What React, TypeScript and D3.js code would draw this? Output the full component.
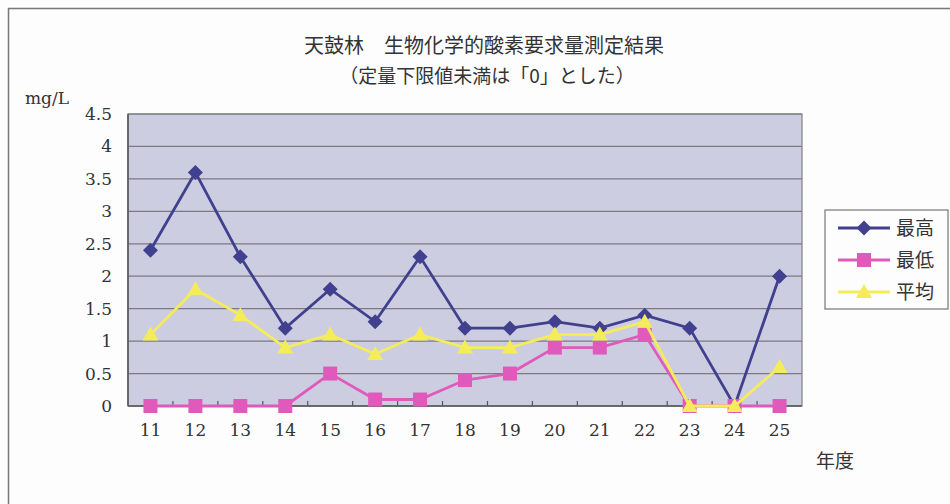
import React from "react";
import * as d3 from "d3";

const years = ["11", "12", "13", "14", "15", "16", "17", "18", "19", "20", "21", "22", "23", "24", "25"];
const maxValues = [2.4, 3.6, 2.3, 1.2, 1.8, 1.3, 2.3, 1.2, 1.2, 1.3, 1.2, 1.4, 1.2, 0, 2.0];
const minValues = [0, 0, 0, 0, 0.5, 0.1, 0.1, 0.4, 0.5, 0.9, 0.9, 1.1, 0, 0, 0];
const avgValues = [1.1, 1.8, 1.4, 0.9, 1.1, 0.8, 1.1, 0.9, 0.9, 1.1, 1.1, 1.3, 0, 0, 0.6];
const yTicks = [0, 0.5, 1, 1.5, 2, 2.5, 3, 3.5, 4, 4.5];
const yTickLabels = ["0", "0.5", "1", "1.5", "2", "2.5", "3", "3.5", "4", "4.5"];
const seriesNames = ["最高", "最低", "平均"];

const W = 950;
const H = 504;
const plot = { left: 128, top: 114, right: 802, bottom: 406 };
const serif = "'DejaVu Serif', 'Liberation Serif', serif";
const cjk = "'Noto Sans CJK JP', 'Noto Sans CJK SC', sans-serif";

const colors = { max: "#40408f", min: "#e05abb", avg: "#f4ec58" };

type Shape = "diamond" | "square" | "triangle";

function Marker({ x, y, shape, color }: { x: number; y: number; shape: Shape; color: string }) {
  if (shape === "diamond") {
    const s = 7.5;
    return <path d={`M${x},${y - s}L${x + s},${y}L${x},${y + s}L${x - s},${y}Z`} fill={color} />;
  }
  if (shape === "square") {
    const s = 7;
    return <rect x={x - s} y={y - s} width={2 * s} height={2 * s} fill={color} />;
  }
  const s = 8;
  return <path d={`M${x},${y - s}L${x + s},${y + s * 0.75}L${x - s},${y + s * 0.75}Z`} fill={color} />;
}

export default function App() {
  const x = d3
    .scaleBand<string>()
    .domain(years)
    .range([plot.left, plot.right]);
  const y = d3.scaleLinear().domain([0, 4.5]).range([plot.bottom, plot.top]);
  const cx = (d: string) => (x(d) as number) + x.bandwidth() / 2;

  const line = d3
    .line<number>()
    .x((_, i) => cx(years[i]))
    .y((v) => y(v));

  const series: { name: string; values: number[]; color: string; shape: Shape }[] = [
    { name: seriesNames[0], values: maxValues, color: colors.max, shape: "diamond" },
    { name: seriesNames[1], values: minValues, color: colors.min, shape: "square" },
    { name: seriesNames[2], values: avgValues, color: colors.avg, shape: "triangle" },
  ];

  const legend = { x: 825, y: 210, w: 123, h: 99 };

  return (
    <svg width={W} height={H} style={{ position: "absolute", left: 0, top: 0 }}>
      <rect x={0} y={0} width={W} height={H} fill="#fdfdfd" />
      {/* chart frame */}
      <path d={`M8.5,${H + 2}V8.5H${W + 2}`} fill="none" stroke="#777" strokeWidth={1.5} />

      {/* titles */}
      <text x={484} y={53} textAnchor="middle" fontFamily={cjk} fontSize={20} fill="#333">
        天鼓林　生物化学的酸素要求量測定結果
      </text>
      <text x={487} y={83} textAnchor="middle" fontFamily={cjk} fontSize={19} fill="#333">
        （定量下限値未満は「0」とした）
      </text>
      <text x={25} y={104} fontFamily={serif} fontSize={17} fill="#333">
        mg/L
      </text>

      {/* plot area */}
      <rect
        x={plot.left}
        y={plot.top}
        width={plot.right - plot.left}
        height={plot.bottom - plot.top}
        fill="#cdcde1"
        stroke="#808080"
        strokeWidth={1.2}
      />
      {yTicks.slice(1).map((t) => (
        <line key={t} x1={plot.left} x2={plot.right} y1={y(t)} y2={y(t)} stroke="#7a7a80" strokeWidth={1.2} />
      ))}
      {/* axes */}
      <line x1={plot.left} x2={plot.left} y1={plot.top} y2={plot.bottom} stroke="#555" strokeWidth={1.5} />
      <line x1={plot.left} x2={plot.right} y1={plot.bottom} y2={plot.bottom} stroke="#555" strokeWidth={1.5} />
      {years.slice(1).map((d) => (
        <line
          key={d}
          x1={x(d) as number}
          x2={x(d) as number}
          y1={plot.bottom}
          y2={plot.bottom - 5}
          stroke="#555"
          strokeWidth={1.2}
        />
      ))}

      {/* y tick labels */}
      {yTicks.map((t, i) => (
        <text key={t} x={112} y={y(t) + 6} textAnchor="end" fontFamily={serif} fontSize={17} fill="#333">
          {yTickLabels[i]}
        </text>
      ))}
      {/* x tick labels */}
      {years.map((d) => (
        <text key={d} x={cx(d)} y={436} textAnchor="middle" fontFamily={serif} fontSize={17} fill="#333">
          {d}
        </text>
      ))}
      <text x={835} y={468} textAnchor="middle" fontFamily={cjk} fontSize={19} fill="#333">
        年度
      </text>

      {/* series */}
      {series.map((s) => (
        <g key={s.name}>
          <path d={line(s.values) || ""} fill="none" stroke={s.color} strokeWidth={2.8} />
          {s.values.map((v, i) => (
            <Marker key={i} x={cx(years[i])} y={y(v)} shape={s.shape} color={s.color} />
          ))}
        </g>
      ))}

      {/* legend */}
      <rect x={legend.x} y={legend.y} width={legend.w} height={legend.h} fill="#fdfdfd" stroke="#777" strokeWidth={1.2} />
      {series.map((s, i) => {
        const ly = legend.y + 18 + i * 32;
        return (
          <g key={s.name}>
            <line x1={838} x2={890} y1={ly} y2={ly} stroke={s.color} strokeWidth={2.8} />
            <Marker x={864} y={ly} shape={s.shape} color={s.color} />
            <text x={896} y={ly + 7} fontFamily={cjk} fontSize={19} fill="#333">
              {s.name}
            </text>
          </g>
        );
      })}
    </svg>
  );
}
